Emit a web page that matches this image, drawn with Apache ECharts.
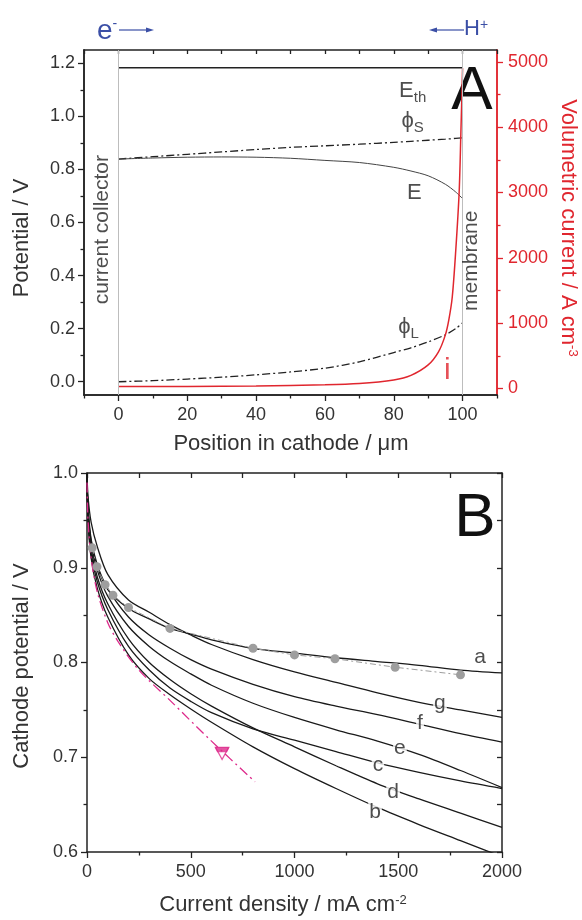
<!DOCTYPE html>
<html>
<head>
<meta charset="utf-8">
<script src="https://cdn.jsdelivr.net/npm/echarts@6.0.0/dist/echarts.min.js"></script>
<style>
  html, body { margin: 0; padding: 0; background: #fff; }
  #chart { width: 582px; height: 920px; }
</style>
</head>
<body>
<div id="chart"></div>
<script>
// ---- panel A: potentials and volumetric current across the cathode
var posA  = [0, 10, 20, 30, 40, 50, 60, 70, 80, 85, 90, 95, 98, 100];
var phiS  = [0.839, 0.848, 0.857, 0.866, 0.875, 0.883, 0.889, 0.895, 0.902, 0.906, 0.910, 0.914, 0.917, 0.919];
var eCell = [0.839, 0.843, 0.846, 0.847, 0.846, 0.842, 0.834, 0.826, 0.808, 0.794, 0.776, 0.744, 0.715, 0.690];
var phiL  = [0.000, 0.004, 0.010, 0.017, 0.026, 0.037, 0.051, 0.075, 0.110, 0.128, 0.150, 0.177, 0.200, 0.222];
var posEth = [0, 100];
var eTh    = [1.183, 1.183];
var posI = [0, 20, 40, 60, 70, 80, 85, 90, 93, 95, 96, 97, 98, 99, 99.5, 100];
var iVol = [30, 32, 38, 55, 75, 130, 200, 360, 560, 820, 1050, 1400, 2100, 3000, 3900, 4900];
var wallsA = [0, 100];

var ticksXA  = [0, 20, 40, 60, 80, 100];
var minorXA  = [-10, 10, 30, 50, 70, 90, 110];
var ticksYA  = [0, 0.2, 0.4, 0.6, 0.8, 1.0, 1.2];
var minorYA  = [0.1, 0.3, 0.5, 0.7, 0.9, 1.1];
var ticksYR  = [0, 1000, 2000, 3000, 4000, 5000];
var minorYR  = [500, 1500, 2500, 3500, 4500];

// ---- panel B: polarisation curves
var jB = [0, 5, 20, 50, 100, 200, 300, 400, 500, 600, 800, 1000, 1200, 1400, 1600, 1800, 2000];
var curveA = [1.000, 0.960, 0.928, 0.901, 0.877, 0.857, 0.846, 0.836, 0.830, 0.824, 0.815, 0.810, 0.805, 0.801, 0.797, 0.792, 0.789];
var curveB = [1.000, 0.950, 0.910, 0.878, 0.848, 0.808, 0.783, 0.766, 0.751, 0.737, 0.711, 0.688, 0.667, 0.647, 0.629, 0.612, 0.595];
var curveC = [1.000, 0.952, 0.915, 0.885, 0.856, 0.817, 0.792, 0.773, 0.759, 0.747, 0.730, 0.718, 0.706, 0.694, 0.684, 0.675, 0.667];
var curveD = [1.000, 0.955, 0.920, 0.890, 0.862, 0.825, 0.800, 0.782, 0.767, 0.754, 0.731, 0.711, 0.691, 0.672, 0.656, 0.641, 0.626];
var curveE = [1.000, 0.960, 0.925, 0.897, 0.870, 0.838, 0.817, 0.801, 0.788, 0.776, 0.757, 0.742, 0.729, 0.717, 0.703, 0.686, 0.668];
var curveF = [1.000, 0.965, 0.930, 0.903, 0.878, 0.848, 0.829, 0.815, 0.803, 0.793, 0.777, 0.764, 0.754, 0.745, 0.735, 0.725, 0.716];
var curveG = [1.000, 0.975, 0.948, 0.922, 0.893, 0.866, 0.853, 0.840, 0.829, 0.819, 0.803, 0.790, 0.779, 0.768, 0.758, 0.750, 0.742];

var jDots = [25, 48, 87, 125, 200, 400, 800, 1000, 1195, 1485, 1800];
var eDots = [0.921, 0.901, 0.882, 0.871, 0.858, 0.836, 0.815, 0.808, 0.804, 0.795, 0.787];

var jMag = [0, 5, 20, 50, 100, 150, 250, 400, 600, 810];
var eMag = [0.990, 0.950, 0.910, 0.874, 0.842, 0.822, 0.792, 0.760, 0.717, 0.674];
var jTri = [651];
var eTriOpen = [0.704];
var eTriFill = [0.708];

// text anchors (data coordinates)
var notesA = [
  { name: '{m|E}{s|th}', value: [85.5, 1.089] },
  { name: '{m|\u03d5}{s|S}', value: [85.5, 0.976] },
  { name: '{m|E}', value: [86.0, 0.712] },
  { name: '{m|\u03d5}{s|L}', value: [84.3, 0.200] },
  { name: '{r|i}', value: [95.6, 0.041] }
];
var sideNotesA = [
  { name: 'current collector', value: [-4.65, 0.573] },
  { name: 'membrane', value: [102.6, 0.456] }
];
var curveNames = [
  { name: 'a', value: [1894, 0.806] },
  { name: 'g', value: [1701, 0.757] },
  { name: 'f', value: [1605, 0.736] },
  { name: 'e', value: [1508, 0.710] },
  { name: 'c', value: [1402, 0.692] },
  { name: 'd', value: [1475, 0.663] },
  { name: 'b', value: [1388, 0.642] }
];

var FONT = 'Liberation Sans, Arial, Helvetica, sans-serif';
var INK = '#222';
var RED = '#e0262e';
var BLUE = '#3b4fa6';
var MAGENTA = '#dd2a8b';
var DASHDOT = [8, 3, 2, 3];
var SMOOTH = 0.3;

function pairs(xs, ys) {
  return xs.map(function (x, k) { return [x, ys[k]]; });
}
function plain(v) { return String(v); }

var frameLine = { show: true, onZero: false, lineStyle: { color: INK, width: 1.5 } };
var redLine = { show: true, onZero: false, lineStyle: { color: RED, width: 1.5 } };
var tickLine = { color: INK, width: 1.3 };
var tickFont = { color: '#333', fontSize: 18, fontFamily: FONT };

function curveB_(data, name) {
  return {
    name: name, type: 'line', xAxisIndex: 3, yAxisIndex: 4,
    data: data, symbol: 'none', smooth: SMOOTH,
    lineStyle: { color: '#1a1a1a', width: 1.3 }
  };
}

var chart = echarts.init(document.getElementById('chart'));
chart.setOption({
  animation: false,
  backgroundColor: '#fff',
  grid: [
    { left: 84, top: 50, width: 413, height: 345 },
    { left: 87, top: 473, width: 415, height: 379 }
  ],
  xAxis: [
    { gridIndex: 0, type: 'value', min: -10, max: 110, position: 'bottom',
      axisLine: frameLine, splitLine: { show: false },
      axisTick: { show: true, customValues: ticksXA, length: 6, lineStyle: tickLine },
      axisLabel: Object.assign({ customValues: ticksXA, margin: 11, formatter: plain }, tickFont) },
    { gridIndex: 0, type: 'value', min: -10, max: 110, position: 'bottom',
      axisLine: frameLine, splitLine: { show: false },
      axisTick: { show: true, customValues: minorXA, length: 3.5, lineStyle: tickLine },
      axisLabel: { show: false } },
    { gridIndex: 0, type: 'value', min: -10, max: 110, interval: 10, position: 'top',
      axisLine: frameLine, splitLine: { show: false },
      axisTick: { show: true, inside: true, length: 4, lineStyle: tickLine },
      axisLabel: { show: false } },
    { gridIndex: 1, type: 'value', min: 0, max: 2000, interval: 500, position: 'bottom',
      axisLine: frameLine, splitLine: { show: false },
      axisTick: { show: true, length: 6, lineStyle: tickLine },
      minorTick: { show: true, splitNumber: 2, length: 3.5, lineStyle: tickLine },
      axisLabel: Object.assign({ margin: 11, formatter: plain }, tickFont) },
    { gridIndex: 1, type: 'value', min: 0, max: 2000, interval: 250, position: 'top',
      axisLine: frameLine, splitLine: { show: false },
      axisTick: { show: true, inside: true, length: 5, lineStyle: tickLine },
      axisLabel: { show: false } }
  ],
  yAxis: [
    { gridIndex: 0, type: 'value', min: -0.05, max: 1.25, position: 'left',
      axisLine: frameLine, splitLine: { show: false },
      axisTick: { show: true, customValues: ticksYA, length: 6, lineStyle: tickLine },
      axisLabel: Object.assign({ customValues: ticksYA, margin: 9,
        formatter: function (v) { return v.toFixed(1); } }, tickFont) },
    { gridIndex: 0, type: 'value', min: -0.05, max: 1.25, position: 'left',
      axisLine: frameLine, splitLine: { show: false },
      axisTick: { show: true, customValues: minorYA, length: 3.5, lineStyle: tickLine },
      axisLabel: { show: false } },
    { gridIndex: 0, type: 'value', min: -100, max: 5180, position: 'right',
      axisLine: redLine, splitLine: { show: false },
      axisTick: { show: true, customValues: ticksYR, length: 6, lineStyle: { color: RED, width: 1.3 } },
      axisLabel: { customValues: ticksYR, margin: 11, color: RED, fontSize: 18, fontFamily: FONT, formatter: plain } },
    { gridIndex: 0, type: 'value', min: -100, max: 5180, position: 'right',
      axisLine: redLine, splitLine: { show: false },
      axisTick: { show: true, customValues: minorYR, length: 3.5, lineStyle: { color: RED, width: 1.3 } },
      axisLabel: { show: false } },
    { gridIndex: 1, type: 'value', min: 0.6, max: 1.0, interval: 0.1, position: 'left',
      axisLine: frameLine, splitLine: { show: false },
      axisTick: { show: true, length: 6, lineStyle: tickLine },
      minorTick: { show: true, splitNumber: 2, length: 3.5, lineStyle: tickLine },
      axisLabel: Object.assign({ margin: 9,
        formatter: function (v) { return v.toFixed(1); } }, tickFont) },
    { gridIndex: 1, type: 'value', min: 0.6, max: 1.0, interval: 0.05, position: 'right',
      axisLine: frameLine, splitLine: { show: false },
      axisTick: { show: true, inside: true, length: 5, lineStyle: tickLine },
      axisLabel: { show: false } }
  ],
  series: [
    // panel A
    { name: 'Eth', type: 'line', xAxisIndex: 0, yAxisIndex: 0, data: pairs(posEth, eTh), symbol: 'none',
      lineStyle: { color: INK, width: 1.6 },
      markLine: { silent: true, symbol: ['none', 'none'], label: { show: false },
        lineStyle: { color: '#bdbdbd', width: 1, type: 'solid' },
        data: wallsA.map(function (x) { return { xAxis: x }; }) } },
    { name: 'phiS', type: 'line', xAxisIndex: 0, yAxisIndex: 0, data: pairs(posA, phiS), symbol: 'none',
      smooth: SMOOTH, lineStyle: { color: INK, width: 1.3, type: DASHDOT } },
    { name: 'E', type: 'line', xAxisIndex: 0, yAxisIndex: 0, data: pairs(posA, eCell), symbol: 'none',
      smooth: SMOOTH, lineStyle: { color: '#444', width: 1 } },
    { name: 'phiL', type: 'line', xAxisIndex: 0, yAxisIndex: 0, data: pairs(posA, phiL), symbol: 'none',
      smooth: SMOOTH, lineStyle: { color: INK, width: 1.3, type: DASHDOT } },
    { name: 'i', type: 'line', xAxisIndex: 0, yAxisIndex: 2, data: pairs(posI, iVol), symbol: 'none',
      smooth: SMOOTH, lineStyle: { color: RED, width: 1.5 } },
    { name: 'notesA', type: 'scatter', xAxisIndex: 0, yAxisIndex: 0, data: notesA, symbolSize: 0, z: 5,
      label: { show: true, position: 'inside', formatter: function (p) { return p.name; },
        fontFamily: FONT, color: '#222',
        rich: {
          m: { fontSize: 22, fontFamily: FONT, color: '#222', verticalAlign: 'top' },
          s: { fontSize: 15, fontFamily: FONT, color: '#222', verticalAlign: 'bottom', padding: [10, 0, 0, 0] },
          r: { fontSize: 30, fontFamily: FONT, color: RED }
        } } },
    { name: 'sideNotesA', type: 'scatter', xAxisIndex: 0, yAxisIndex: 0, data: sideNotesA, symbolSize: 0, z: 5,
      label: { show: true, position: 'inside', rotate: 90, formatter: function (p) { return p.name; },
        fontFamily: FONT, fontSize: 21, color: '#222' } },

    // panel B
    curveB_(pairs(jB, curveA), 'a'),
    curveB_(pairs(jB, curveB), 'b'),
    curveB_(pairs(jB, curveC), 'c'),
    curveB_(pairs(jB, curveD), 'd'),
    curveB_(pairs(jB, curveE), 'e'),
    curveB_(pairs(jB, curveF), 'f'),
    curveB_(pairs(jB, curveG), 'g'),
    { name: 'expt', type: 'line', xAxisIndex: 3, yAxisIndex: 4, data: pairs(jDots, eDots),
      symbol: 'circle', symbolSize: 9, itemStyle: { color: '#9e9e9e' },
      lineStyle: { color: '#9e9e9e', width: 1, type: [6, 3, 2, 3] } },
    { name: 'mag', type: 'line', xAxisIndex: 3, yAxisIndex: 4, data: pairs(jMag, eMag), symbol: 'none',
      smooth: SMOOTH, lineStyle: { color: MAGENTA, width: 1.3, type: [10, 4, 2, 4] } },
    { name: 'triOpen', type: 'scatter', xAxisIndex: 3, yAxisIndex: 4, data: pairs(jTri, eTriOpen),
      symbol: 'path://M0,0L10,0L5,9Z', symbolSize: [13, 12],
      itemStyle: { color: '#fff', borderColor: MAGENTA, borderWidth: 1.3 } },
    { name: 'triFill', type: 'scatter', xAxisIndex: 3, yAxisIndex: 4, data: pairs(jTri, eTriFill),
      symbol: 'path://M0,0L10,0L8.3,3L1.7,3Z', symbolSize: [15, 5],
      itemStyle: { color: MAGENTA } },
    { name: 'curveNames', type: 'scatter', xAxisIndex: 3, yAxisIndex: 4, data: curveNames, symbolSize: 0, z: 6,
      label: { show: true, position: 'inside', formatter: function (p) { return p.name; },
        fontFamily: FONT, fontSize: 21, color: '#222', backgroundColor: '#fff', padding: [0, 1, 2, 1] } }
  ],
  graphic: [
    { type: 'text', x: 22, y: 238, rotation: Math.PI / 2,
      style: { text: 'Potential / V', fontSize: 22, fontFamily: FONT, fill: '#333', align: 'center', verticalAlign: 'middle' } },
    { type: 'text', x: 568, y: 228, rotation: -Math.PI / 2,
      style: { text: '{m|Volumetric current / A cm}{s|-3}', align: 'center', verticalAlign: 'middle',
        rich: { m: { fontSize: 22, fontFamily: FONT, fill: RED, verticalAlign: 'bottom' },
                s: { fontSize: 13, fontFamily: FONT, fill: RED, verticalAlign: 'top' } } } },
    { type: 'text', x: 291, y: 444,
      style: { text: 'Position in cathode / \u03bcm', fontSize: 22, fontFamily: FONT, fill: '#333', align: 'center', verticalAlign: 'middle' } },
    { type: 'text', x: 22, y: 666, rotation: Math.PI / 2,
      style: { text: 'Cathode potential / V', fontSize: 22, fontFamily: FONT, fill: '#333', align: 'center', verticalAlign: 'middle' } },
    { type: 'text', x: 283, y: 905,
      style: { text: '{m|Current density / mA cm}{s|-2}', align: 'center', verticalAlign: 'middle',
        rich: { m: { fontSize: 22, fontFamily: FONT, fill: '#333', verticalAlign: 'bottom' },
                s: { fontSize: 13, fontFamily: FONT, fill: '#333', verticalAlign: 'top' } } } },
    { type: 'text', x: 472, y: 92,
      style: { text: 'A', fontSize: 62, fontFamily: FONT, fill: '#111', align: 'center', verticalAlign: 'middle' } },
    { type: 'text', x: 475, y: 519,
      style: { text: 'B', fontSize: 62, fontFamily: FONT, fill: '#111', align: 'center', verticalAlign: 'middle' } },
    // e- arrow
    { type: 'text', x: 97, y: 31,
      style: { text: '{m|e}{s|-}', align: 'left', verticalAlign: 'middle',
        rich: { m: { fontSize: 28, fontFamily: FONT, fill: BLUE, verticalAlign: 'bottom' },
                s: { fontSize: 14, fontFamily: FONT, fill: BLUE, verticalAlign: 'top' } } } },
    { type: 'line', shape: { x1: 119, y1: 30, x2: 150, y2: 30 }, style: { stroke: BLUE, lineWidth: 1.2 } },
    { type: 'polygon', shape: { points: [[154, 30], [146, 27.6], [146, 32.4]] }, style: { fill: BLUE } },
    // H+ arrow
    { type: 'line', shape: { x1: 433, y1: 30, x2: 464, y2: 30 }, style: { stroke: BLUE, lineWidth: 1.2 } },
    { type: 'polygon', shape: { points: [[429, 30], [437, 27.6], [437, 32.4]] }, style: { fill: BLUE } },
    { type: 'text', x: 464, y: 29,
      style: { text: '{m|H}{s|+}', align: 'left', verticalAlign: 'middle',
        rich: { m: { fontSize: 22, fontFamily: FONT, fill: BLUE, verticalAlign: 'bottom' },
                s: { fontSize: 14, fontFamily: FONT, fill: BLUE, verticalAlign: 'top' } } } }
  ]
});
</script>
</body>
</html>
